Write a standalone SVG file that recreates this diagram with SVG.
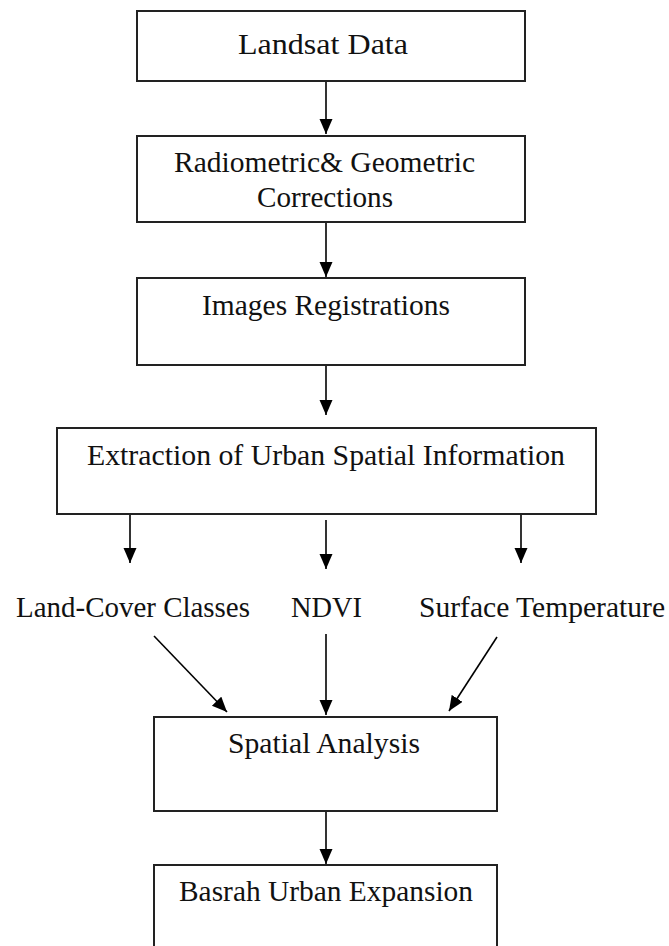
<svg xmlns="http://www.w3.org/2000/svg" width="669" height="946" viewBox="0 0 669 946">
<style>
.box{fill:#fff;stroke:#222;stroke-width:2}
.t{font-family:"Liberation Serif","Times New Roman",serif;font-size:29px;fill:#111;text-anchor:start}
.c{stroke:#000;stroke-width:1.6;fill:none;marker-end:url(#ah)}
</style>
<defs>
<marker id="ah" markerUnits="userSpaceOnUse" markerWidth="16" markerHeight="14" refX="15" refY="6.5" orient="auto" viewBox="0 0 16 14">
<path d="M0,0 L15,6.5 L0,13 z" fill="#000"/>
</marker>
</defs>
<rect width="669" height="946" fill="#fff"/>
<g id="connectors">
<line class="c" x1="326" y1="81" x2="326" y2="134"/>
<line class="c" x1="326" y1="223" x2="326" y2="277"/>
<line class="c" x1="326" y1="366" x2="326" y2="415"/>
<line class="c" x1="130" y1="514" x2="130" y2="563"/>
<line class="c" x1="326" y1="520" x2="326" y2="569"/>
<line class="c" x1="521" y1="514" x2="521" y2="563"/>
<line class="c" x1="154" y1="636" x2="227" y2="712"/>
<line class="c" x1="326" y1="634" x2="326" y2="715"/>
<line class="c" x1="497" y1="637" x2="449" y2="711"/>
<line class="c" x1="326" y1="812" x2="326" y2="864"/>
</g>
<g id="n1"><rect class="box" x="137" y="11" width="388" height="70"/><text class="t" x="238" y="54" textLength="170" lengthAdjust="spacingAndGlyphs">Landsat Data</text></g>
<g id="n2"><rect class="box" x="137" y="136" width="388" height="86"/><text class="t" x="174" y="172" textLength="301" lengthAdjust="spacingAndGlyphs">Radiometric&amp; Geometric</text><text class="t" x="257" y="207" textLength="136" lengthAdjust="spacingAndGlyphs">Corrections</text></g>
<g id="n3"><rect class="box" x="137" y="278" width="388" height="87"/><text class="t" x="202" y="315" textLength="248" lengthAdjust="spacingAndGlyphs">Images Registrations</text></g>
<g id="n4"><rect class="box" x="57" y="428" width="539" height="86"/><text class="t" x="87" y="465" textLength="478" lengthAdjust="spacingAndGlyphs">Extraction of Urban Spatial Information</text></g>
<g id="n5"><text class="t" x="16" y="617" textLength="234" lengthAdjust="spacingAndGlyphs">Land-Cover Classes</text></g>
<g id="n6"><text class="t" x="291" y="617" textLength="71" lengthAdjust="spacingAndGlyphs">NDVI</text></g>
<g id="n7"><text class="t" x="419" y="617" textLength="246" lengthAdjust="spacingAndGlyphs">Surface Temperature</text></g>
<g id="n8"><rect class="box" x="154" y="717" width="343" height="94"/><text class="t" x="228" y="753" textLength="192" lengthAdjust="spacingAndGlyphs">Spatial Analysis</text></g>
<g id="n9"><rect class="box" x="154" y="865" width="343" height="100"/><text class="t" x="179" y="901" textLength="294" lengthAdjust="spacingAndGlyphs">Basrah Urban Expansion</text></g>
</svg>
